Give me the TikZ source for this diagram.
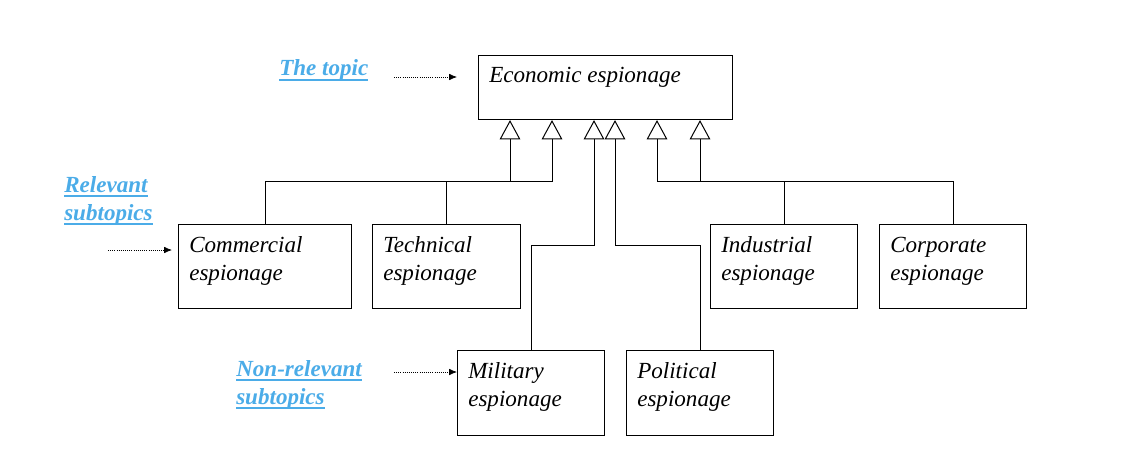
\documentclass[tikz,border=0pt]{standalone}
\usepackage{fontspec}
\setmainfont{Liberation Serif}
\usetikzlibrary{arrows.meta}
\definecolor{hintblue}{RGB}{75,172,232}
\newcommand{\hintline}[1]{\setbox0\hbox{#1}\rlap{\rule[-3.4pt]{\wd0}{1.3pt}}\box0}
\tikzset{
	box/.style={draw, line width=0.8pt, anchor=north west, inner sep=0pt},
	boxtext/.style={anchor=base west, align=left, inner sep=0pt, font=\fontsize{17.3}{21}\selectfont\itshape},
	hint/.style={anchor=base west, align=left, inner sep=0pt, text=hintblue, font=\fontsize{17.3}{21}\selectfont\bfseries\itshape},
	link/.style={line width=0.75pt, -{Triangle[open,length=14.5pt,width=15.5pt]}},
	pointer/.style={line width=0.6pt, densely dotted, -{Latex[length=6pt,width=5pt]}}
}
\begin{document}
\begin{tikzpicture}[x=0.75pt,y=-0.75pt]
	\useasboundingbox (0,0) rectangle (1130,456);
	
	% Kaesten mit Text (Grundlinie der letzten Zeile bei \b)
	\foreach \n/\x/\y/\w/\h/\b/\t in {eco/478/55/254/64/28/{Economic espionage},
		comm/178/224/173/84/56/{Commercial\\espionage},
		tech/372/224/148/84/56/{Technical\\espionage},
		indus/710/224/147/84/56/{Industrial\\espionage},
		corp/879/224/147/84/56/{Corporate\\espionage},
		mil/457/350/147/85/56/{Military\\espionage},
		pol/626/350/147/85/56/{Political\\espionage}} {
		\node[box, minimum width=\w*0.75pt, minimum height=\h*0.75pt] (\n) at (\x,\y) {};
		\node[boxtext] (\n-t) at (\x+11,\y+\b) {\t};
	}
	
	% Spitzen der Dreiecke unter dem Thema
	\foreach \d [count=\i from 1] in {32,74,116,137,179,222} {
		\path (eco.south west) ++(\d,0) coordinate (t\i);
	}
	\coordinate (lh) at (0,181);
	\coordinate (lm) at (0,245);
	
	% Verbindungen zu den Unterthemen
	\draw[link] (comm.north) |- (lh -| t2) -- (t2);
	\draw[link] (tech.north) |- (lh -| t1) -- (t1);
	\draw[link] (mil.north) |- (lm -| t3) -- (t3);
	\draw[link] (pol.north) |- (lm -| t4) -- (t4);
	\draw[link] (indus.north) |- (lh -| t6) -- (t6);
	\draw[link] (corp.north) |- (lh -| t5) -- (t5);
	
	% Hinweise links
	\node[hint] (topic) at (279,76) {\hintline{The topic}};
	\node[hint] (rel) at (64,220) {\hintline{Relevant}\\\hintline{subtopics}};
	\node[hint] (nonrel) at (236,404) {\hintline{Non-relevant}\\\hintline{subtopics}};
	
	% Gepunktete Pfeile
	\coordinate (p1) at (394,77);
	\coordinate (p2) at (108,250);
	\coordinate (p3) at (394,372);
	\draw[pointer] (p1) -- ++(63,0);
	\draw[pointer] (p2) -- ++(64,0);
	\draw[pointer] (p3) -- ++(63,0);
\end{tikzpicture}
\end{document}
